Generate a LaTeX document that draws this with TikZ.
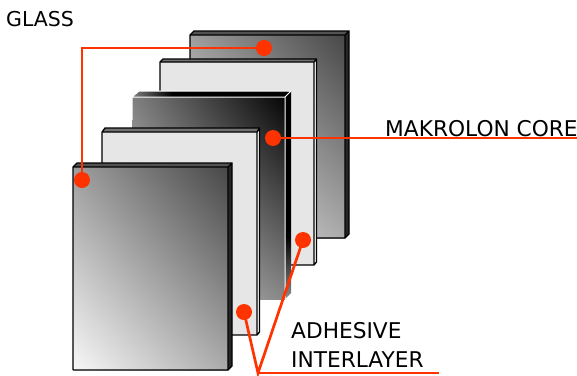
\documentclass[tikz,border=0pt]{standalone}
\usepackage{fontspec}
\setmainfont{DejaVu Sans}
\usetikzlibrary{shadings}
\definecolor{lead}{HTML}{FF3300}
\definecolor{film}{HTML}{E6E6E6}
\tikzset{x=1pt,y=-1pt,
 leader/.style={draw=lead,line width=2.7pt,line join=miter},
 dot/.style={circle,fill=lead,inner sep=0pt,minimum size=16pt},
 lbl/.style={anchor=base west,inner sep=0pt,font=\fontsize{21.7}{24}\selectfont,text=black},
 edge/.style={draw=black,line width=1.3pt,line join=miter}}
\begin{document}
\begin{tikzpicture}
\useasboundingbox (0,0) rectangle (577,375);
\fill[white] (0,0) rectangle (577,375);
% back glass
\fill[black!85] (345,35) -- (349,31) -- (349,234) -- (345,238) -- cycle;
\fill[black!68] (190,35) -- (194,31) -- (349,31) -- (345,35) -- cycle;
\path[upper left=black!38,upper right=black!72,lower left=black!6,lower right=black!33,shade] (190,35) rectangle (345,238);
\draw[edge] (190,238) -- (190,35) -- (194,31) -- (349,31) -- (349,234) -- (345,238) -- (190,238) (190,35) -- (345,35) -- (345,238) (345,35) -- (349,31);
% back film
\fill[film] (160,62) rectangle (314,265);
\fill[black!55] (160,62) -- (163,59) -- (316.5,59) -- (314,62) -- cycle;
\fill[white] (314,62) -- (316.5,59) -- (316.5,262) -- (314,265) -- cycle;
\draw[edge] (160,265) -- (160,62) -- (163,59) -- (316.5,59) -- (316.5,262) -- (314,265) -- (160,265) (160,62) -- (314,62) -- (314,265) (314,62) -- (316.5,59);
% core
\path[upper left=black!50,upper right=black!98,lower left=black!15,lower right=black!47,shade] (132,97) rectangle (285,299);
\path[shade,left color=black!50,right color=black] (132,97) -- (139,91) -- (172,91) -- (172,97) -- cycle;
\fill[black] (172,91) -- (291,91) -- (285,97) -- (172,97) -- cycle;
\fill[black] (285,97) -- (291,91) -- (291,236) -- (285,240) -- cycle;
\path[shade,top color=black,bottom color=black!45] (285,236) -- (291,236) -- (291,293) -- (285,299) -- cycle;
\draw[white,line width=1pt] (132,120) -- (132,97) -- (139,91) -- (291,91) (132,97) -- (285,97) -- (285,299) (285,97) -- (291,91);
% front film
\fill[film] (102,132) rectangle (257,335);
\fill[black!55] (102,132) -- (105,128) -- (259.5,128) -- (257,132) -- cycle;
\fill[white] (257,132) -- (259.5,128) -- (259.5,332) -- (257,335) -- cycle;
\draw[edge] (102,335) -- (102,132) -- (105,128) -- (259.5,128) -- (259.5,332) -- (257,335) -- (102,335) (102,132) -- (257,132) -- (257,335) (257,132) -- (259.5,128);
% front glass
\fill[black!85] (228,167) -- (232,163) -- (232,366) -- (228,370) -- cycle;
\fill[black!68] (73,167) -- (77,163) -- (232,163) -- (228,167) -- cycle;
\path[upper left=black!38,upper right=black!72,lower left=black!3,lower right=black!33,shade] (73,167) rectangle (228,370);
\draw[edge] (73,370) -- (73,167) -- (77,163) -- (232,163) -- (232,366) -- (228,370) -- (73,370) (73,167) -- (228,167) -- (228,370) (228,167) -- (232,163);
% labels
\node[lbl,font=\fontsize{20.5}{24}\selectfont] (glass) at (6,26) {GLASS};
\node[lbl] (core) at (385,136) {MAKROLON CORE};
\node[lbl] (adh) at (291,338) {ADHESIVE};
\node[lbl] (inter) at (291,367) {INTERLAYER};
% leaders
\node[dot] (d1) at (264,48) {};
\node[dot] (d2) at (82,180) {};
\node[dot] (d3) at (273,138) {};
\node[dot] (d4) at (303,240) {};
\node[dot] (d5) at (244,312) {};
\coordinate (c1) at (82,48);
\coordinate (c2) at (577,138);
\coordinate (j) at (258,373);
\coordinate (e) at (439,373);
\draw[leader] (d1.center) -- (c1) -- (d2.center);
\draw[leader] (d3.center) -- (c2);
\draw[leader] (d4.center) -- (j) -- (d5.center);
\draw[leader] (j) -- (e);
\end{tikzpicture}
\end{document}
